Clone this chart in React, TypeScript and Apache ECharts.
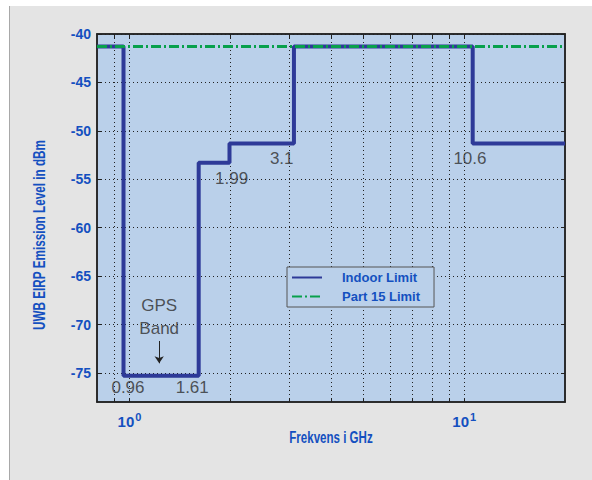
import React, { useEffect, useRef } from "react";
import * as echarts from "echarts";

// Step breakpoints of the indoor UWB emission mask (GHz, dBm)
const indoorFreq = [0.8, 0.96, 1.61, 1.99, 3.1, 10.6, 20];
const indoorLevel = [-41.3, -75.3, -53.3, -51.3, -41.3, -51.3, -51.3];

// Part 15 general emission limit
const part15Freq = [0.8, 20];
const part15Level = [-41.3, -41.3];

// Axis ticks
const xTicks = [0.9, 1, 2, 3, 4, 5, 6, 7, 8, 9, 10];
const yTicks = [-75, -70, -65, -60, -55, -50, -45, -40];

// Text annotations placed in data coordinates: [freq, level, text]
const notes: [number, number, string][] = [
  [0.99, -76.5, "0.96"],
  [1.54, -76.5, "1.61"],
  [2.02, -54.9, "1.99"],
  [2.85, -52.9, "3.1"],
  [10.4, -52.9, "10.6"],
  [1.227, -68.0, "GPS"],
  [1.227, -70.4, "Band"],
];
const arrowFreq = 1.227;
const arrowFrom = -71.7;
const arrowTo = -74.0;

const BLUE_TEXT = "#1450c0";
const SANS = "'Liberation Sans', Arial, sans-serif";
const PLOT_BG = "#bad0ea";

const near = (a: number, b: number) => Math.abs(a - b) < 1e-6 * Math.max(1, Math.abs(b));

export default function App() {
  const ref = useRef<HTMLDivElement>(null);

  useEffect(() => {
    if (!ref.current) return;
    const chart = echarts.init(ref.current, undefined, { renderer: "svg" });

    const gridLine = {
      show: true,
      lineStyle: { color: "#222", width: 1, type: [1, 3] as number[] },
    };
    const tickStyle = {
      show: true,
      inside: true,
      length: 4,
      lineStyle: { color: "#222", width: 1 },
    };

    const xBase = {
      type: "log" as const,
      logBase: 10,
      min: 0.8,
      max: 20,
      axisLine: { show: true, onZero: false, lineStyle: { color: "#222", width: 1.5 } },
    };
    const yBase = {
      type: "value" as const,
      min: -78,
      max: -40,
      axisLine: { show: true, onZero: false, lineStyle: { color: "#222", width: 1.5 } },
    };

    const titleStyle = {
      fill: BLUE_TEXT,
      fontFamily: SANS,
      fontWeight: "bold",
      fontSize: 17,
      align: "center",
      verticalAlign: "middle",
    };

    chart.setOption({
      animation: false,
      backgroundColor: "#ffffff",
      graphic: [
        {
          type: "rect",
          z: -10,
          shape: { x: 9, y: 6, width: 583, height: 474 },
          style: { fill: "#e4e4e4" },
          silent: true,
        },
        {
          type: "line",
          z: -9,
          shape: { x1: 9.5, y1: 6, x2: 9.5, y2: 480 },
          style: { stroke: "#a8a8a8", lineWidth: 1 },
          silent: true,
        },
        // Axis titles, set in a condensed face
        {
          type: "text",
          x: 331,
          y: 437,
          scaleX: 0.68,
          style: { ...titleStyle, text: "Frekvens i GHz" },
          silent: true,
        },
        {
          type: "text",
          x: 39,
          y: 235,
          rotation: Math.PI / 2,
          scaleX: 0.69,
          style: { ...titleStyle, text: "UWB EIRP Emission Level in dBm" },
          silent: true,
        },
      ],
      grid: {
        left: 97,
        top: 34,
        right: 27,
        bottom: 78,
        show: true,
        backgroundColor: PLOT_BG,
        borderColor: "#222",
        borderWidth: 1.5,
      },
      xAxis: [
        {
          ...xBase,
          position: "bottom",
          axisTick: { ...tickStyle, customValues: xTicks },
          splitLine: gridLine,
          axisLabel: {
            margin: 9,
            showMinLabel: false,
            showMaxLabel: false,
            formatter: (v: number) =>
              near(v, 1) ? "{b|10}{s|0}" : near(v, 10) ? "{b|10}{s|1}" : "",
            rich: {
              b: { color: BLUE_TEXT, fontFamily: SANS, fontWeight: "bold", fontSize: 15 },
              s: { color: BLUE_TEXT, fontFamily: SANS, fontWeight: "bold", fontSize: 11, padding: [0, 0, 10, 1] },
            },
          },
        },
        {
          ...xBase,
          position: "top",
          axisTick: { ...tickStyle, customValues: xTicks },
          axisLabel: { show: false },
          splitLine: { show: false },
        },
      ],
      yAxis: [
        {
          ...yBase,
          position: "left",
          axisTick: { ...tickStyle, customValues: yTicks },
          splitLine: gridLine,
          axisLabel: {
            customValues: yTicks,
            margin: 6,
            color: BLUE_TEXT,
            fontFamily: SANS,
            fontWeight: "bold",
            fontSize: 14,
          },
        },
        {
          ...yBase,
          position: "right",
          axisTick: { ...tickStyle, customValues: yTicks },
          axisLabel: { show: false },
          splitLine: { show: false },
        },
      ],
      legend: {
        orient: "vertical",
        left: 287,
        top: 267,
        padding: [4, 14, 4, 4],
        itemGap: 6,
        itemWidth: 30,
        itemHeight: 14,
        backgroundColor: PLOT_BG,
        borderColor: "#555",
        borderWidth: 1,
        borderRadius: 0,
        itemStyle: { opacity: 0 },
        textStyle: {
          color: BLUE_TEXT,
          fontFamily: SANS,
          fontWeight: "bold",
          fontSize: 13,
          padding: [0, 0, 0, 15],
        },
        data: ["Indoor Limit", "Part 15 Limit"],
      },
      series: [
        {
          name: "Indoor Limit",
          type: "line",
          step: "end",
          symbol: "none",
          data: indoorFreq.map((f, i) => [f, indoorLevel[i]]),
          lineStyle: { color: "#2e3a98", width: 4 },
          itemStyle: { color: "#2e3a98" },
          z: 3,
        },
        {
          name: "Part 15 Limit",
          type: "line",
          symbol: "none",
          data: part15Freq.map((f, i) => [f, part15Level[i]]),
          lineStyle: { color: "#08a04c", width: 3, type: [10, 3, 2, 3] },
          itemStyle: { color: "#08a04c" },
          z: 4,
        },
        {
          name: "notes",
          type: "scatter",
          symbol: "circle",
          symbolSize: 1,
          itemStyle: { color: "rgba(0,0,0,0)" },
          silent: true,
          z: 5,
          data: notes.map((n) => [n[0], n[1], n[2]]),
          label: {
            show: true,
            position: "inside",
            formatter: (p: any) => p.data[2],
            color: "#2e2e2e",
            fontFamily: SANS,
            fontSize: 17,
          },
          markLine: {
            silent: true,
            symbol: ["none", "arrow"],
            symbolSize: 7,
            label: { show: false },
            lineStyle: { color: "#222", width: 1, type: "solid" },
            data: [[{ coord: [arrowFreq, arrowFrom] }, { coord: [arrowFreq, arrowTo] }]],
          },
        },
      ],
    });

    return () => chart.dispose();
  }, []);

  return (
    <div
      ref={ref}
      style={{ position: "absolute", left: 0, top: 0, width: 592, height: 480 }}
    />
  );
}
